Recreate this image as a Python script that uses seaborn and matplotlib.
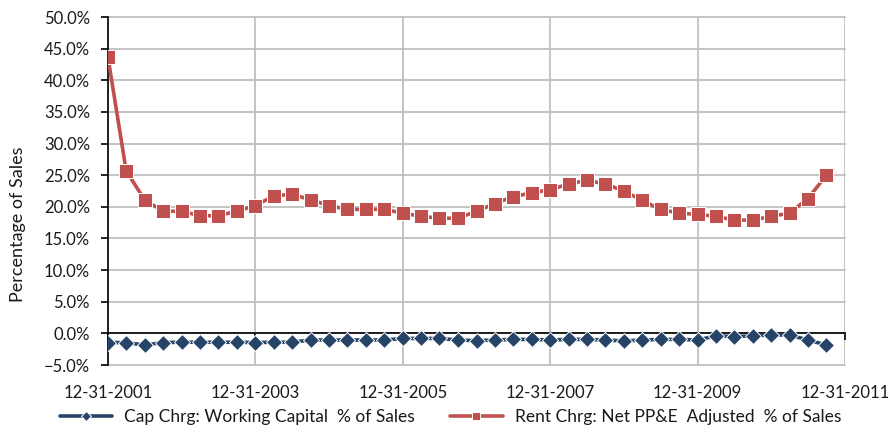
import pandas as pd
import matplotlib
matplotlib.use("Agg")
import matplotlib.pyplot as plt
import matplotlib.dates as mdates
from matplotlib.ticker import PercentFormatter, MultipleLocator
import seaborn as sns

# Quarter-end observations, 12-31-2001 through 9-30-2011
quarters = pd.date_range("2001-12-31", periods=40, freq=pd.offsets.QuarterEnd())

# Capital charge on working capital, % of sales
working_capital = [
    -1.45, -1.45, -1.85, -1.45, -1.4, -1.4, -1.4, -1.4, -1.45, -1.4,
    -1.4, -1.05, -1.05, -1.05, -1.05, -1.05, -0.8, -0.8, -0.8, -1.05,
    -1.15, -1.05, -0.95, -0.95, -1.05, -0.95, -0.95, -1.05, -1.2, -1.05,
    -0.95, -0.95, -1.05, -0.4, -0.5, -0.4, -0.25, -0.25, -1.05, -1.85,
]

# Rent charge on adjusted net PP&E, % of sales
net_ppe = [
    43.6, 25.7, 21.1, 19.3, 19.3, 18.6, 18.6, 19.3, 20.2, 21.7,
    22.0, 21.1, 20.2, 19.6, 19.6, 19.6, 19.0, 18.5, 18.2, 18.2,
    19.3, 20.5, 21.6, 22.2, 22.7, 23.6, 24.2, 23.6, 22.5, 21.0,
    19.6, 19.0, 18.8, 18.5, 17.9, 17.9, 18.5, 19.0, 21.3, 25.0,
]

series_names = [
    "Cap Chrg: Working Capital  % of Sales",
    "Rent Chrg: Net PP&E  Adjusted  % of Sales",
]
x_tick_dates = ["2001-12-31", "2003-12-31", "2005-12-31",
                "2007-12-31", "2009-12-31", "2011-12-31"]

navy = "#264468"
red = "#C0504D"
grid_gray = "#BFBFBF"
text_color = "#1a1a1a"

sns.set_theme(style="white")
plt.rcParams["font.family"] = ["Lato", "DejaVu Sans"]
plt.rcParams["font.size"] = 12

fig = plt.figure(figsize=(8.92, 4.28), dpi=100)
ax = fig.add_axes([108 / 892, 1 - 365 / 428, (845 - 108) / 892, (365 - 17) / 428])

df = pd.DataFrame({"date": quarters, "wc": working_capital, "ppe": net_ppe})

sns.lineplot(data=df, x="date", y="wc", ax=ax, color=navy, linewidth=2.6,
             marker="D", markersize=8.4, markeredgecolor="white",
             markeredgewidth=0.7, label=series_names[0], zorder=4)
sns.lineplot(data=df, x="date", y="ppe", ax=ax, color=red, linewidth=2.6,
             marker="s", markersize=10.5, markeredgecolor="white",
             markeredgewidth=0.7, label=series_names[1], zorder=5)

ticks = pd.to_datetime(x_tick_dates)
ax.set_xlim(ticks[0], ticks[-1])
ax.set_xticks(ticks)
ax.xaxis.set_major_formatter(mdates.DateFormatter("%m-%d-%Y"))

ax.set_ylim(-5, 50)
ax.yaxis.set_major_locator(MultipleLocator(5))
ax.yaxis.set_major_formatter(PercentFormatter(xmax=100, decimals=1))

ax.set_xlabel("")
ax.set_ylabel("")

ax.grid(True, color=grid_gray, linewidth=1.3)
for gl in ax.get_xgridlines() + ax.get_ygridlines():
    gl.set_clip_on(False)
ax.set_axisbelow(True)

for side in ("top", "right"):
    ax.spines[side].set_visible(False)
ax.spines["left"].set_color("black")
ax.spines["left"].set_linewidth(1.2)
ax.spines["bottom"].set_position(("data", 0))
ax.spines["bottom"].set_color("black")
ax.spines["bottom"].set_linewidth(1.2)
ax.spines["bottom"].set_zorder(3)

ax.tick_params(axis="y", direction="out", length=5, width=1.2, color="black",
               left=True, labelsize=12, labelcolor=text_color, pad=8)
ax.tick_params(axis="x", direction="out", length=5, width=1.2, color="black",
               bottom=True, labelsize=12, labelcolor=text_color, pad=32)

fig.text(18.5 / 892, 1 - 224 / 428, "Percentage of Sales", rotation=90,
         ha="center", va="center", fontsize=13, color=text_color)

handles, labels = ax.get_legend_handles_labels()
ax.get_legend().remove()
fig.legend(handles, labels, loc="center", bbox_to_anchor=(0.505, 0.026),
           ncol=2, frameon=False, fontsize=12.5, handlelength=3.0,
           handletextpad=0.7, columnspacing=2.05, markerscale=0.55,
           labelcolor=text_color, borderpad=0.2)

fig.savefig("out.png", dpi=100)
